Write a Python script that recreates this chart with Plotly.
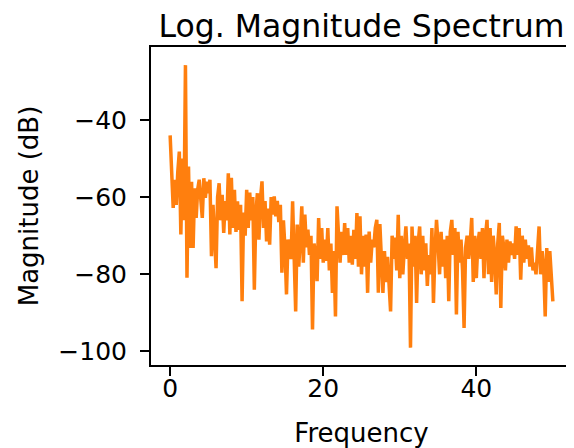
import plotly.graph_objects as go

# Frequency axis (Hz), 0.2 Hz spacing, 0..50
freqs = [round(i * 0.2, 1) for i in range(251)]

# Magnitude in dB (5 values per Hz)
magnitude_db = [
    -44.0, -53.0, -62.8, -55.5, -62.0,
    -53.4, -48.2, -69.7, -50.0, -66.0,
    -25.8, -80.9, -52.1, -73.2, -56.0,
    -73.2, -57.7, -65.4, -58.0, -55.5,
    -62.0, -65.4, -55.1, -60.2, -56.0,
    -59.0, -55.5, -75.3, -62.0, -70.0,
    -78.4, -60.0, -56.4, -66.0, -59.4,
    -69.3, -61.0, -66.0, -53.8, -69.7,
    -55.0, -68.0, -58.1, -69.0, -61.1,
    -68.5, -62.0, -87.0, -64.0, -70.0,
    -58.1, -68.0, -58.8, -66.0, -60.0,
    -84.0, -64.0, -59.0, -71.0, -60.5,
    -55.9, -68.0, -61.0, -71.5, -63.0,
    -72.3, -60.0, -64.5, -59.8, -65.0,
    -61.0, -66.5, -62.0, -79.6, -66.0,
    -73.0, -85.2, -71.0, -73.0, -76.0,
    -61.1, -74.0, -89.6, -67.1, -78.0,
    -71.0, -62.4, -77.0, -64.5, -73.0,
    -68.4, -75.0, -70.0, -94.3, -72.0,
    -75.0, -81.8, -65.4, -76.0, -68.0,
    -77.0, -71.0, -76.5, -68.0, -79.0,
    -72.0, -84.8, -74.0, -90.9, -62.4,
    -70.0, -77.0, -69.0, -75.0, -66.7,
    -75.0, -68.0, -77.0, -70.0, -77.5,
    -68.5, -76.0, -64.1, -78.0, -65.0,
    -80.0, -70.0, -78.0, -69.7, -84.8,
    -68.9, -77.0, -71.0, -73.0, -68.0,
    -65.9, -84.8, -67.0, -76.0, -84.8,
    -74.0, -82.0, -75.5, -81.0, -89.6,
    -70.0, -76.0, -70.5, -79.0, -64.6,
    -81.0, -70.0, -80.0, -73.0, -67.6,
    -76.0, -72.0, -99.0, -67.6, -78.0,
    -70.0, -87.4, -72.0, -67.6, -80.0,
    -70.0, -79.0, -72.0, -83.0, -75.0,
    -80.0, -68.0, -87.4, -74.0, -65.9,
    -72.0, -80.0, -69.0, -78.0, -71.0,
    -81.0, -70.0, -87.0, -69.0, -65.9,
    -75.0, -68.0, -90.4, -69.0, -77.0,
    -71.0, -79.0, -93.9, -73.0, -70.0,
    -76.0, -72.0, -65.4, -82.0, -70.0,
    -81.0, -72.0, -69.0, -76.0, -68.0,
    -81.0, -70.0, -65.9, -80.0, -68.0,
    -82.0, -70.0, -75.0, -85.2, -72.0,
    -66.7, -88.7, -70.0, -73.0, -79.0,
    -71.0, -77.0, -71.5, -75.0, -72.0,
    -76.0, -67.6, -75.0, -68.0, -81.4,
    -70.0, -77.0, -71.0, -76.0, -72.5,
    -78.0, -73.0, -79.0, -77.0, -80.0,
    -75.0, -67.6, -80.0, -74.0, -78.0,
    -90.9, -73.2, -82.0, -74.0, -80.0,
    -87.0,
]

x_ticks = [0, 20, 40]
y_ticks = [-40, -60, -80, -100]

FONT = "DejaVu Sans"

fig = go.Figure()
fig.add_trace(go.Scatter(
    x=freqs, y=magnitude_db, mode="lines",
    line=dict(color="#ff7f0e", width=3.5),
    showlegend=False,
))

axis_common = dict(
    showgrid=False, zeroline=False, automargin=False,
    showline=True, linecolor="black", linewidth=2, mirror=True,
    ticks="outside", ticklen=9, tickwidth=2, tickcolor="black",
    tickfont=dict(family=FONT, size=25, color="black"),
)

# The page body adds an 8 px offset, so the figure is sized to fit the window.
fig.update_layout(
    width=566, height=440,
    margin=dict(l=143, r=2, t=39, b=83),
    paper_bgcolor="white", plot_bgcolor="white",
    font=dict(family=FONT, color="black"),
    title=dict(text="Log. Magnitude Spectrum", x=0.5, xanchor="center",
               xref="paper", y=1, yref="paper", yanchor="bottom",
               pad=dict(b=10), automargin=False,
               font=dict(family=FONT, size=31.5, color="black")),
    xaxis=dict(range=[-2.5, 52.5], tickvals=x_ticks, ticklabelstandoff=-9,
               title=dict(text="Frequency", standoff=25,
                          font=dict(family=FONT, size=26, color="black")),
               **axis_common),
    yaxis=dict(range=[-103.5, -21.1], tickvals=y_ticks, ticklabelstandoff=8,
               title=dict(text="Magnitude (dB)", standoff=12,
                          font=dict(family=FONT, size=26, color="black")),
               **axis_common),
)

fig.write_html("out.html")
